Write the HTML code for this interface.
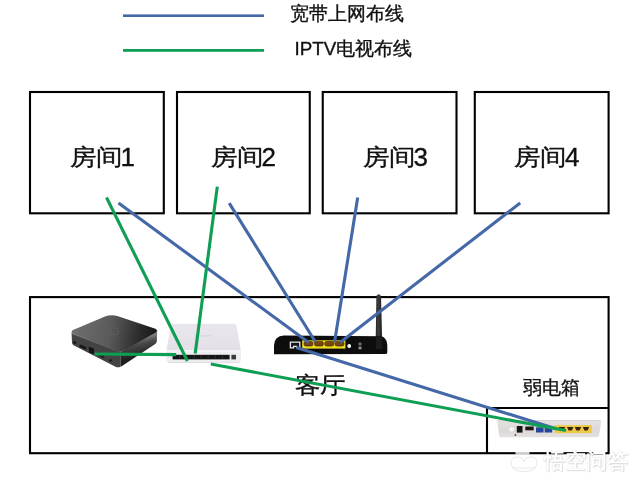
<!DOCTYPE html>
<html><head><meta charset="utf-8">
<style>
html,body{margin:0;padding:0;background:#fff;}
body{width:640px;height:484px;overflow:hidden;position:relative;font-family:"Liberation Sans",sans-serif;}
svg{position:absolute;left:0;top:0;}
.t{position:absolute;white-space:nowrap;color:#111;line-height:1;-webkit-text-stroke:0.35px #111;}
</style></head><body><div style="position:absolute;left:0;top:0;width:640px;height:484px;filter:blur(0.35px);">
<svg width="640" height="484" viewBox="0 0 640 484">
  <defs>
    <linearGradient id="stbTop" gradientUnits="userSpaceOnUse" x1="72" y1="325" x2="157" y2="338">
      <stop offset="0" stop-color="#707070"/>
      <stop offset="0.45" stop-color="#5a5a5a"/>
      <stop offset="0.8" stop-color="#2a2a2a"/>
      <stop offset="1" stop-color="#161616"/>
    </linearGradient>
    <linearGradient id="stbRF" gradientUnits="userSpaceOnUse" x1="140" y1="338" x2="144" y2="356">
      <stop offset="0" stop-color="#7a7a7a"/>
      <stop offset="0.3" stop-color="#4a4a4a"/>
      <stop offset="1" stop-color="#1e1e1e"/>
    </linearGradient>
    <linearGradient id="ant" x1="0" y1="0" x2="1" y2="0">
      <stop offset="0" stop-color="#222"/>
      <stop offset="0.4" stop-color="#3e3e3e"/>
      <stop offset="1" stop-color="#1a1a1a"/>
    </linearGradient>
    <linearGradient id="swTop" x1="0" y1="0" x2="0" y2="1">
      <stop offset="0" stop-color="#e9e6ed"/>
      <stop offset="1" stop-color="#e3e0e7"/>
    </linearGradient>
    <linearGradient id="modem" x1="0" y1="0" x2="0" y2="1">
      <stop offset="0" stop-color="#e6e2e1"/>
      <stop offset="0.6" stop-color="#dcd8d7"/>
      <stop offset="1" stop-color="#e4e1e0"/>
    </linearGradient>
  </defs>
  <!-- legend lines -->
  <rect x="123" y="14.4" width="141" height="2.6" fill="#4468a8"/>
  <rect x="123" y="49" width="141" height="2.8" fill="#0e9f55"/>

  <!-- room boxes -->
  <g fill="none" stroke="#000" stroke-width="2.1">
    <rect x="30" y="92" width="133.8" height="121.3"/>
    <rect x="177" y="92" width="132.75" height="121.3"/>
    <rect x="322.75" y="92" width="133.75" height="121.3"/>
    <rect x="474.8" y="92" width="133.8" height="121.3"/>
    <rect x="30" y="297.1" width="578.6" height="156.1"/>
    <path d="M487 453.2 V408 H608.6"/>
  </g>

  <!-- STB -->
  <g>
    <path d="M71.6 333.2 L121 351.8 L120.5 366.8 Q118 368 115 366.4 L73.5 345.2 Q72 344.3 72 342.5 Z" fill="#434343"/>
    <path d="M71.6 333.6 L121 352.2" stroke="#6a6a6a" stroke-width="0.9" fill="none"/>
    <path d="M121 351.8 L157.2 331 L156.8 341.5 Q156.5 343.3 154.5 344.6 L122 366 Q121 366.8 120.5 366.8 Z" fill="url(#stbRF)"/>
    <path d="M72.4 330.2 Q70.6 332.2 72.6 333.4 L118 351.2 Q121 352.3 124 350.6 L155.6 332.6 Q158.6 330.4 155.4 328.7 L118 316.2 Q111 314.2 105 316.6 Z" fill="url(#stbTop)"/>
    <circle cx="114.6" cy="331.4" r="3.6" fill="none" stroke="#626262" stroke-width="1.1" opacity="0.8"/>
    <circle cx="74.8" cy="342.6" r="1.3" fill="#111"/>
    <path d="M79.6 344.2 L86.2 347 L86.2 349.8 L79.6 347 Z" fill="#151515"/>
    <path d="M88.8 346.6 L94 348.8 L94 354.6 L88.8 352.2 Z" fill="#141414"/>
    <path d="M98 353 L104 355.6 L104 358.4 L98 355.8 Z" fill="#222"/>
    <circle cx="110.5" cy="360.5" r="1.3" fill="#151515"/>
  </g>

  <!-- switch -->
  <g>
    <path d="M175.5 323.8 L234 323.8 Q236.3 323.8 236.6 326 L241 350.6 L166.3 350.6 L170.8 326 Q171.3 323.8 175.5 323.8 Z" fill="url(#swTop)"/>
    <path d="M166.3 350.6 L241 350.6 L241 360 Q241 362.2 238.5 362.2 L169 362.2 Q166.3 362.2 166.3 360 Z" fill="#efedf1"/>
    <line x1="166.5" y1="351" x2="240.8" y2="351" stroke="#f9f8fa" stroke-width="0.9"/>
    <line x1="168" y1="362.4" x2="240" y2="362.4" stroke="#d8d6da" stroke-width="0.8"/>
    <rect x="172.6" y="354.8" width="57" height="4.6" fill="#161616"/>
    <g stroke="#3c3c3c" stroke-width="0.6"><line x1="179.7" y1="355" x2="179.7" y2="359.2"/><line x1="186.8" y1="355" x2="186.8" y2="359.2"/><line x1="194.0" y1="355" x2="194.0" y2="359.2"/><line x1="201.1" y1="355" x2="201.1" y2="359.2"/><line x1="208.2" y1="355" x2="208.2" y2="359.2"/><line x1="215.3" y1="355" x2="215.3" y2="359.2"/><line x1="222.5" y1="355" x2="222.5" y2="359.2"/></g>
    <rect x="231.4" y="354.8" width="4.6" height="4.6" fill="#3a3a3a"/>
    <line x1="194" y1="335.8" x2="212" y2="335.8" stroke="#d3cfd8" stroke-width="0.8"/>
  </g>

  <!-- router -->
  <g>
    <path d="M376.4 296 Q378.7 292.6 381 296 L382.3 347 L375.6 347 Z" fill="url(#ant)"/>
    <path d="M274 354.2 L274 345.5 Q274.3 336 284 335.6 L381 336.3 Q383.5 336.6 385 338.6 Q387.3 341 387.3 345 L387.3 352.4 Q387.3 354 385.3 354 Z" fill="#0d0d0d"/>
    <path d="M376 337 L382 337 L382.3 349 L375.8 349 Z" fill="#1c1c1c"/>
    <rect x="302.2" y="340.3" width="43.2" height="8.3" fill="#ecdc20"/>
    <g fill="#7a4510" stroke="#2a1a08" stroke-width="0.6">
      <rect x="304" y="341.4" width="9" height="4.6" rx="2"/>
      <rect x="314.5" y="341.4" width="9" height="4.6" rx="2"/>
      <rect x="324.8" y="341.4" width="9" height="4.6" rx="2"/>
      <rect x="335" y="341.4" width="9" height="4.6" rx="2"/>
    </g>
    <path d="M290.4 342.2 H299.8 V347.8 H296.6 V346.4 H293.6 V347.8 H290.4 Z" fill="#161616" stroke="#e8e8e8" stroke-width="1.3"/>
    <circle cx="349.2" cy="346" r="1.9" fill="#fafafa"/>
    <rect x="358.4" y="342.6" width="3.2" height="2.8" rx="1" fill="#6a6a6a"/>
    <rect x="358.4" y="346.4" width="3.2" height="3" rx="1" fill="#8a8a8a"/>
  </g>

  <!-- modem -->
  <g>
    <path d="M498.5 420 L599.5 420 Q601.5 420.3 601 423 L599 435.8 Q598.5 437.2 596.5 437.2 L500.6 437.2 Q499.2 437.2 499 435.5 L497.4 422.5 Q497.2 420 498.5 420 Z" fill="url(#modem)"/>
    <line x1="498.5" y1="420.6" x2="600.5" y2="420.6" stroke="#d4d0d0" stroke-width="0.9"/>
    <circle cx="511.7" cy="429.3" r="2.9" fill="#f8f6f4" stroke="#cfcbc8" stroke-width="0.6"/>
    <rect x="516.8" y="426" width="5.7" height="6.6" fill="#161616"/>
    <rect x="525.3" y="426.5" width="8.4" height="3.8" fill="#221612"/>
    <rect x="536" y="427.3" width="7.6" height="5.2" fill="#24469c"/>
    <rect x="544.6" y="427.3" width="7.6" height="5.2" fill="#24469c"/>
    <rect x="554.6" y="425.1" width="37.2" height="8" fill="#ecca48"/>
    <g fill="#3a2208">
      <path d="M558.8 427 h6.4 l-1.6 3.6 h-3.2z"/>
      <path d="M567 427 h6.4 l-1.6 3.6 h-3.2z"/>
      <path d="M574.8 427 h6.4 l-1.6 3.6 h-3.2z"/>
      <path d="M582.8 427 h6.4 l-1.6 3.6 h-3.2z"/>
    </g>
    <circle cx="515.4" cy="435" r="0.9" fill="#555"/>
  </g>
</svg>

<div class="t" style="left:289.5px;top:5.1px;font-size:18.8px;">宽带上网布线</div>
<div class="t" style="left:294.5px;top:39.5px;font-size:18.8px;">IPTV电视布线</div>
<div class="t" style="left:70.2px;top:146.2px;font-size:25.4px;transform:scale(1.04,0.9);transform-origin:0 0;">房间</div><div class="t d" style="left:120.5px;top:143.5px;font-size:26px;">1</div>
<div class="t" style="left:211px;top:146.2px;font-size:25.4px;transform:scale(1.04,0.9);transform-origin:0 0;">房间</div><div class="t d" style="left:261.5px;top:143.5px;font-size:26px;">2</div>
<div class="t" style="left:362.7px;top:146.2px;font-size:25.4px;transform:scale(1.04,0.9);transform-origin:0 0;">房间</div><div class="t d" style="left:413.5px;top:143.5px;font-size:26px;">3</div>
<div class="t" style="left:514px;top:146.2px;font-size:25.4px;transform:scale(1.04,0.9);transform-origin:0 0;">房间</div><div class="t d" style="left:565px;top:143.5px;font-size:26px;">4</div>
<div class="t" style="left:295.3px;top:374.3px;font-size:25.4px;transform:scaleY(0.9);transform-origin:0 0;">客厅</div>
<div class="t" style="left:522.5px;top:379px;font-size:18.8px;">弱电箱</div>

<svg width="640" height="484" viewBox="0 0 640 484">
  <g stroke-width="3.1" stroke-linecap="butt" fill="none">
    <!-- blue lines -->
    <g stroke="#4468a8">
      <line x1="118.5" y1="203" x2="308.7" y2="342.5"/>
      <line x1="229.2" y1="203.1" x2="315.3" y2="341.8"/>
      <line x1="357.7" y1="197.4" x2="334.5" y2="342.5"/>
      <line x1="520.2" y1="202.9" x2="340" y2="342.5"/>
      <line x1="296.3" y1="347.6" x2="556" y2="428.8"/>
    </g>
    <!-- green lines -->
    <g stroke="#0e9f55">
      <line x1="106.5" y1="197.5" x2="187.4" y2="361"/>
      <line x1="217.3" y1="186.6" x2="195.2" y2="353.5"/>
      <line x1="94.5" y1="354" x2="176.2" y2="354.6"/>
      <line x1="210.8" y1="364" x2="566" y2="430.6"/>
    </g>
  </g>
</svg>

<svg width="640" height="484" viewBox="0 0 640 484">
  <g fill="#fff" stroke="#e2e2e2" stroke-width="0.8">
    <path d="M511 463 Q511 457 517.5 457 Q523.5 457 524 462 Q524.5 457 530.5 457 Q537 457 537 463 Q537 468 530.5 468 L517.5 468 Q511 468 511 463 Z"/>
    <path d="M512 467 Q514 471.5 524 471.5 Q534 471.5 536 467" fill="none"/>
  </g>
  <rect x="515.5" y="451.5" width="14" height="3" fill="#fff" opacity="0.8"/>
</svg>
<div style="position:absolute;left:544px;top:451px;font-size:20.5px;line-height:1;white-space:nowrap;color:#fff;font-weight:bold;font-family:'Liberation Sans',sans-serif;text-shadow:0 0 1px rgba(0,0,0,0.22),1px 1px 1px rgba(0,0,0,0.12);">悟空问答</div>
</div></body></html>
